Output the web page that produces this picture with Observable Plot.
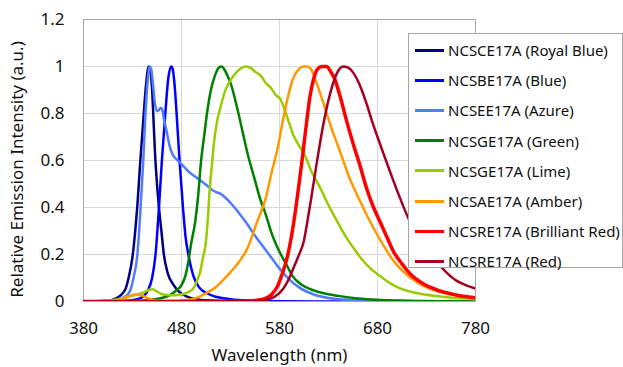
<!DOCTYPE html>
<html><head><meta charset="utf-8">
<script src="https://cdn.jsdelivr.net/npm/d3@7"></script>
<script src="https://cdn.jsdelivr.net/npm/@observablehq/plot@0.6"></script>
<style>
body{margin:0;background:#fff;}
#wrap{position:relative;width:623px;height:367px;font-family:"Noto Sans",sans-serif;color:#111;}
#legend{position:absolute;left:408px;top:33px;width:215px;height:235px;border:1px solid #a6a6a6;background:#fff;box-sizing:border-box;}
.row{position:absolute;left:0;height:20px;display:flex;align-items:center;font-size:15px;white-space:nowrap;}
.sw{width:29px;height:3px;margin-left:6px;margin-right:4px;}
</style></head><body><div id="wrap"><div id="legend"></div></div>
<script>
const seriesNames = ["NCSCE17A (Royal Blue)","NCSBE17A (Blue)","NCSEE17A (Azure)","NCSGE17A (Green)","NCSGE17A (Lime)","NCSAE17A (Amber)","NCSRE17A (Brilliant Red)","NCSRE17A (Red)"];
const seriesColors = ["#000080","#0000ff","#4f7bff","#008000","#99cc00","#ff9900","#ff0000","#a50021"];
const xTicks = [380,480,580,680,780];
const yTicks = [0,0.2,0.4,0.6,0.8,1,1.2];

const royalBlue = [[380,0],[400,0.002],[410,0.008],[416,0.02],[420,0.035],[423,0.055],[426,0.1],[430,0.19],[433,0.31],[435,0.41],[438,0.6],[441.5,0.8],[444,0.93],[446.5,1.0],[448,0.99],[450,0.9],[452,0.72],[453,0.63],[455,0.5],[457,0.4],[459.5,0.3],[462,0.2],[466,0.12],[472,0.07],[478,0.04],[485,0.022],[495,0.01],[510,0.004],[530,0.001],[560,0]];
const blue = [[380,0],[420,0.002],[435,0.01],[442,0.025],[446,0.05],[450,0.1],[453.5,0.2],[457,0.4],[460,0.6],[463.5,0.8],[466.5,0.95],[469.5,1.0],[471,0.99],[473,0.92],[475,0.8],[478,0.6],[481.5,0.4],[484,0.28],[487,0.2],[492,0.11],[498,0.06],[506,0.035],[515,0.02],[530,0.01],[550,0.004],[580,0.001],[650,0]];
const azure = [[380,0],[410,0.003],[420,0.015],[425,0.03],[428,0.05],[431,0.1],[435,0.2],[438,0.38],[441,0.6],[443,0.78],[445.5,0.94],[447.5,1.0],[449,0.99],[451,0.92],[453,0.84],[455,0.81],[457,0.815],[459,0.825],[460.5,0.815],[462,0.78],[465,0.72],[468,0.66],[471,0.625],[475,0.605],[480,0.585],[488,0.55],[496,0.525],[506,0.494],[513,0.47],[520,0.458],[530,0.42],[538,0.38],[547,0.33],[555,0.28],[564,0.23],[572,0.185],[581,0.135],[591,0.09],[600,0.06],[615,0.03],[630,0.015],[650,0.007],[700,0.002],[780,0]];
const green = [[380,0],[430,0.003],[450,0.008],[460,0.015],[467,0.025],[474,0.045],[480,0.07],[484,0.11],[487,0.17],[490,0.25],[494,0.34],[497,0.45],[500,0.6],[503,0.7],[506,0.8],[510,0.9],[514,0.96],[518,0.995],[521,1.0],[524,0.985],[527,0.96],[530,0.93],[537,0.82],[543,0.71],[548,0.62],[554,0.53],[560,0.44],[566,0.37],[572,0.29],[579,0.22],[588,0.15],[593,0.11],[603,0.07],[613,0.05],[625,0.035],[640,0.024],[660,0.013],[680,0.007],[700,0.004],[720,0.002],[780,0]];
const lime = [[380,0],[400,0.003],[415,0.01],[425,0.02],[435,0.03],[442,0.04],[447,0.05],[450,0.052],[454,0.045],[458,0.035],[465,0.028],[472,0.027],[480,0.03],[487,0.04],[492,0.055],[496,0.09],[499,0.125],[502,0.19],[504.5,0.24],[506.5,0.33],[508.5,0.46],[511,0.58],[513,0.67],[516,0.76],[520,0.83],[524,0.89],[529,0.935],[534,0.965],[540,0.99],[545,1.0],[550,0.995],[556,0.975],[561,0.96],[566,0.93],[571,0.91],[576,0.88],[581,0.86],[585,0.82],[589,0.77],[594,0.71],[599,0.67],[605,0.63],[613,0.55],[622,0.48],[630,0.41],[639,0.34],[647,0.28],[656,0.225],[664,0.18],[673,0.14],[683,0.107],[693,0.077],[703,0.056],[720,0.036],[740,0.023],[760,0.015],[780,0.01]];
const amber = [[380,0],[415,0.005],[425,0.02],[432,0.03],[438,0.028],[445,0.015],[452,0.005],[460,0.002],[475,0.002],[485,0.006],[495,0.015],[505,0.035],[513,0.055],[521,0.085],[530,0.125],[539,0.17],[547,0.224],[557,0.337],[566,0.44],[572,0.55],[578,0.65],[583,0.76],[588,0.86],[594,0.95],[600,0.99],[604,1.0],[608,1.0],[612,0.99],[617,0.94],[622,0.88],[632,0.75],[642,0.635],[652,0.52],[663,0.42],[673,0.335],[683,0.26],[696,0.175],[714,0.1],[730,0.06],[750,0.035],[780,0.015]];
const brilliantRed = [[380,0],[540,0.001],[555,0.004],[565,0.012],[572,0.03],[578,0.065],[583,0.12],[588,0.19],[591,0.25],[595,0.35],[599,0.47],[603,0.6],[607,0.74],[611,0.87],[615,0.95],[619,0.99],[623,1.0],[628,1.0],[632,0.98],[636,0.95],[642,0.87],[649,0.76],[656,0.66],[662,0.58],[669,0.48],[676,0.4],[683,0.335],[690,0.27],[696,0.215],[705,0.16],[714,0.115],[725,0.08],[740,0.05],[760,0.028],[780,0.016]];
const red = [[380,0],[550,0.001],[565,0.006],[575,0.02],[584,0.055],[590,0.1],[595,0.15],[600,0.2],[605,0.26],[608,0.33],[612,0.43],[618,0.59],[625,0.76],[632,0.89],[639,0.975],[645,1.0],[650,0.995],[655,0.975],[661,0.93],[669,0.84],[675,0.76],[680,0.7],[686,0.63],[693,0.55],[703,0.44],[712,0.35],[720,0.29],[730,0.225],[740,0.17],[750,0.125],[760,0.09],[770,0.07],[780,0.055]];

const seriesData = [royalBlue, blue, azure, green, lime, amber, brilliantRed, red];
const widths = [2.5,2.5,2.5,2.5,2.5,2.5,3.5,2.5];

const rows = seriesData.flatMap((s,i)=> s.map(([wl,v])=>({wl, v, name: seriesNames[i]})));

const lineMarks = seriesData.map((s,i)=> Plot.line(rows.filter(d=>d.name===seriesNames[i]), {x:"wl", y:"v", stroke:"name", strokeWidth:widths[i], curve:"monotone-x", clip:true}));

const chart = Plot.plot({
  width:623, height:367,
  marginLeft:83, marginRight:148, marginTop:19, marginBottom:66,
  style:{fontFamily:'"Noto Sans",sans-serif', background:"#fff", color:"#111"},
  x:{domain:[380,780]},
  y:{domain:[0,1.2]},
  color:{domain:seriesNames, range:seriesColors},
  marks:[
    Plot.gridY(yTicks.slice(1,-1), {stroke:"#d9d9d9", strokeOpacity:1}),
    Plot.gridX(xTicks.slice(1,-1), {stroke:"#d9d9d9", strokeOpacity:1}),
    Plot.frame({stroke:"#a6a6a6"}),
    Plot.axisX(xTicks, {tickSize:0, tickPadding:20, fontSize:17, label:null, tickFormat:d=>String(d)}),
    Plot.axisY(yTicks, {tickSize:0, tickPadding:19, fontSize:17, label:null, tickFormat:d=>String(d)}),
    Plot.text(["Wavelength (nm)"], {frameAnchor:"bottom", dy:54, fontSize:17, fill:"#111", lineAnchor:"middle", textAnchor:"middle"}),
    Plot.text(["Relative Emission Intensity (a.u.)"], {frameAnchor:"left", dx:-66, dy:9, rotate:-90, fontSize:17, fill:"#111", textAnchor:"middle", lineAnchor:"middle"}),
    ...lineMarks
  ]
});
document.getElementById("wrap").prepend(chart);

const legend = document.getElementById("legend");
seriesNames.forEach((n,i)=>{
  const r = document.createElement("div");
  r.className="row";
  r.style.top = (6 + i*30.2) + "px";
  const sw = document.createElement("div");
  sw.className="sw"; sw.style.background = seriesColors[i];
  const t = document.createElement("span"); t.textContent = n;
  r.append(sw, t);
  legend.append(r);
});
</script>
</body></html>
